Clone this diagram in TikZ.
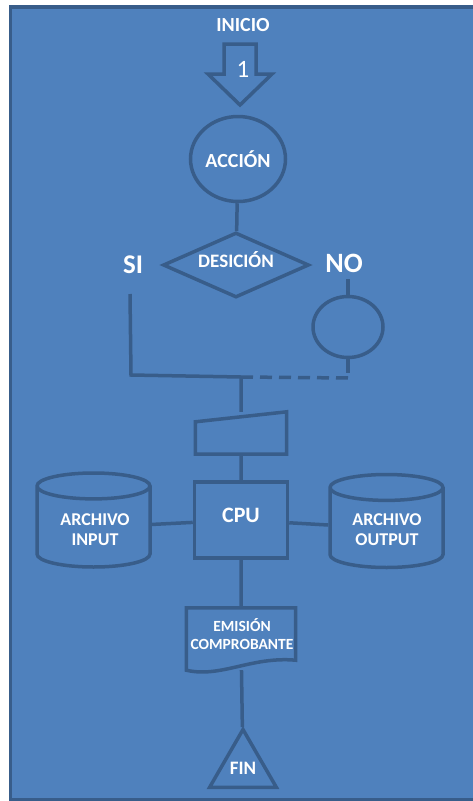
\documentclass[tikz,border=0pt]{standalone}
\usepackage{fontspec}
\setmainfont{Carlito}
\usetikzlibrary{shapes.geometric,backgrounds,calc}
\definecolor{fondo}{HTML}{4F81BD}
\definecolor{borde}{HTML}{385D8A}
\newcommand{\tam}[2]{\bfseries\fontsize{#1}{#2}\selectfont}
\tikzset{
    figura/.style={
           draw=borde, line width=3.5pt,
           fill=fondo,
           text=white,
           inner sep=0pt,
           align=center,
           },
    circulo/.style={figura, ellipse},
    rombo/.style={figura, diamond, aspect=2.25},
    caja/.style={figura, rectangle},
    archivo/.style={figura, cylinder, shape border rotate=90,
           text width=70pt, aspect=0.37},
    triangulo/.style={figura, regular polygon, regular polygon sides=3},
    texto/.style={text=white, inner sep=0pt, align=center},
    linea/.style={draw=borde, line width=3.5pt},
}

\begin{document}
\begin{tikzpicture}[x=1pt,y=-1pt]
    \useasboundingbox (0,0) rectangle (473,801);

    % inicio con la flecha de entrada
    \node[texto, font=\tam{20}{24}] (inicio) at (243,25) {INICIO};
    \draw[figura, line join=miter]
        (224,44) -- (256,44) -- (256,74) -- (272,74) -- (240,105)
        -- (208,74) -- (224,74) -- cycle;
    \node[texto, font=\fontsize{25}{26}\selectfont] (uno) at (243,69) {1};

    % accion y desicion
    \node[circulo,
    minimum width=95pt, minimum height=85pt,
    font=\tam{20}{24}] (accion) at (238,159) {ACCIÓN};

    \node[rombo,
    minimum width=146pt, minimum height=65pt, text depth=10pt,
    font=\tam{19}{24}] (desicion) at (236,265) {DESICIÓN};

    \node[texto, font=\tam{27}{30}] (si) at (133,265) {SI};
    \node[texto, font=\tam{28}{30}] (no) at (344,263) {NO};

    % rama del NO
    \node[circulo, minimum width=70pt, minimum height=61pt] (conector) at (348,327) {};
    \coordinate (no-top) at (348,279);
    \coordinate (no-fin) at (348,373);

    % rama del SI y union
    \coordinate (si-top) at (130,294);
    \coordinate (esq) at (131,375);
    \coordinate (union) at (241,377);
    \coordinate (no-bajo) at (349,378);

    % entrada manual (borde superior inclinado)
    \node[minimum width=91pt, minimum height=42pt, inner sep=0pt] (entrada) at (241,433) {};
    \draw[figura]
        (entrada.south west) -- (entrada.south east) -- (entrada.north east)
        -- ($(entrada.north west)+(0,10)$) -- cycle;

    % cpu y archivos
    \node[caja,
    minimum width=93pt, minimum height=76pt, text depth=10pt,
    font=\tam{22}{24}] (cpu) at (241,520) {CPU};

    \node[archivo,
    minimum width=113pt, minimum height=94pt,
    anchor=shape center] (archin) at (93.5,520) {};
    \node[texto, font=\tam{18}{20}] (archin-txt) at (95,530) {ARCHIVO\\INPUT};

    \node[archivo,
    minimum width=113pt, minimum height=93pt,
    anchor=shape center] (archout) at (386.5,521) {};
    \node[texto, font=\tam{18}{20}] (archout-txt) at (387,530) {ARCHIVO\\OUTPUT};

    % documento
    \node[minimum width=109pt, minimum height=62pt, inner sep=0pt] (emision) at (241,639) {};
    \draw[figura]
        (emision.north west) -- (emision.south west)
        .. controls ($(emision.south)+(-20,8)$) and ($(emision.south)+(10,-14)$) .. ($(emision.south east)+(0,-10)$)
        -- (emision.north east) -- cycle;
    \node[texto, font=\tam{15.5}{18}] (emision-txt) at (242,634) {EMISIÓN\\COMPROBANTE};

    % fin
    \node[triangulo, minimum size=77pt, font=\tam{19}{20}] (fin) at (243,768) {FIN};

    % conectores, detras de las figuras
    \begin{pgfonlayer}{background}
        \draw[linea, fill=fondo] (10.5,7) rectangle (490,800);
        \draw[linea] (accion) -- (desicion);
        \draw[linea] (si-top) -- (esq) -- (union);
        \draw[linea, dash pattern=on 12pt off 7pt] (union) -- (no-bajo);
        \draw[linea] (no-top) -- (conector) -- (no-fin);
        \draw[linea] (union) -- (entrada) -- (cpu) -- (emision) -- (fin);
        \draw[linea] (archin) -- (cpu) -- (archout);
    \end{pgfonlayer}
\end{tikzpicture}
\end{document}
